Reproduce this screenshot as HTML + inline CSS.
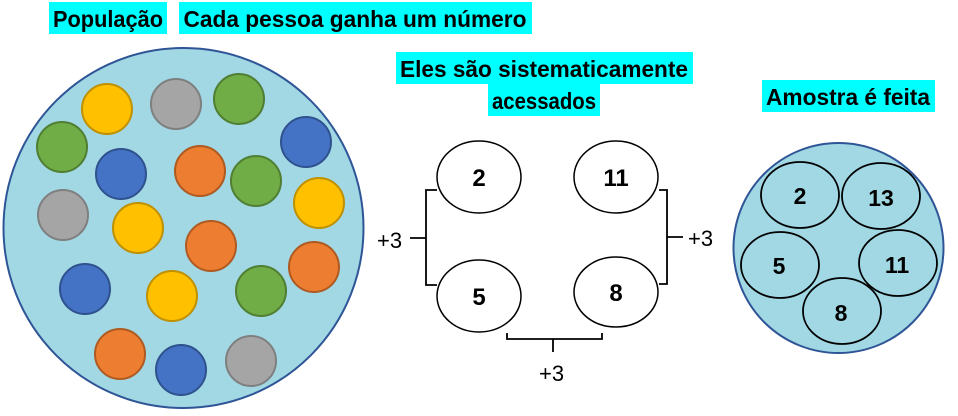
<!DOCTYPE html>
<html><head><meta charset="utf-8"><style>
html,body{margin:0;padding:0;background:#fff;}
svg{display:block;}
text{font-family:"Liberation Sans",sans-serif;}
</style></head><body>
<svg width="958" height="416" viewBox="0 0 958 416" xmlns="http://www.w3.org/2000/svg">
<rect x="49" y="2" width="118" height="32" fill="#00ffff"/>
<text x="108" y="27" font-size="23" font-weight="bold" text-anchor="middle" textLength="110" lengthAdjust="spacingAndGlyphs">População</text>
<rect x="179" y="2" width="353" height="32" fill="#00ffff"/>
<text x="355" y="27" font-size="23" font-weight="bold" text-anchor="middle" textLength="343" lengthAdjust="spacingAndGlyphs">Cada pessoa ganha um número</text>
<rect x="396" y="52" width="297" height="32" fill="#00ffff"/>
<text x="544" y="77" font-size="23" font-weight="bold" text-anchor="middle" textLength="288" lengthAdjust="spacingAndGlyphs">Eles são sistematicamente</text>
<rect x="488" y="84" width="112" height="32" fill="#00ffff"/>
<text x="544" y="109" font-size="23" font-weight="bold" text-anchor="middle" textLength="104" lengthAdjust="spacingAndGlyphs">acessados</text>
<rect x="762" y="80" width="173" height="32" fill="#00ffff"/>
<text x="848" y="105" font-size="23" font-weight="bold" text-anchor="middle" textLength="164" lengthAdjust="spacingAndGlyphs">Amostra é feita</text>

<circle cx="183.5" cy="228" r="180" fill="#a1d8e4" stroke="#2f5597" stroke-width="2"/>
<g stroke-width="2">
<g fill="#ffc000" stroke="#bf9000">
<circle cx="107" cy="109" r="25"/><circle cx="319" cy="203" r="25"/><circle cx="138" cy="228" r="25"/><circle cx="172" cy="296" r="25"/>
</g>
<g fill="#a5a5a5" stroke="#7f7f7f">
<circle cx="176" cy="104" r="25"/><circle cx="63" cy="215" r="25"/><circle cx="251" cy="361" r="25"/>
</g>
<g fill="#70ad47" stroke="#507e32">
<circle cx="239" cy="99" r="25"/><circle cx="62" cy="147" r="25"/><circle cx="256" cy="181" r="25"/><circle cx="261" cy="291" r="25"/>
</g>
<g fill="#4472c4" stroke="#2f528f">
<circle cx="306" cy="142" r="25"/><circle cx="121" cy="174" r="25"/><circle cx="85" cy="289" r="25"/><circle cx="181" cy="370" r="25"/>
</g>
<g fill="#ed7d31" stroke="#ae5a21">
<circle cx="200" cy="171" r="25"/><circle cx="211" cy="246" r="25"/><circle cx="314" cy="267" r="25"/><circle cx="120" cy="354" r="25"/>
</g>
</g>

<g fill="#fff" stroke="#000" stroke-width="1.5">
<ellipse cx="479" cy="177" rx="42" ry="36"/>
<ellipse cx="616" cy="177" rx="42" ry="36"/>
<ellipse cx="479" cy="296" rx="42" ry="36"/>
<ellipse cx="616" cy="292" rx="42" ry="35"/>
</g>
<g font-size="24" font-weight="bold" text-anchor="middle">
<text x="479" y="186">2</text><text x="616" y="186">11</text>
<text x="479" y="305">5</text><text x="616" y="301">8</text>
</g>
<g fill="none" stroke="#000" stroke-width="1.8">
<path d="M437 190 H426 V285 H437 M426 238 H410"/>
<path d="M659 190 H667 V284 H659 M667 237 H683"/>
<path d="M507 333 V339 H602 V333 M553 339 V352"/>
</g>
<g font-size="22">
<text x="377" y="248">+3</text>
<text x="688" y="246">+3</text>
<text x="539" y="381">+3</text>
</g>

<circle cx="838.5" cy="248" r="105" fill="#a1d8e4" stroke="#2f5597" stroke-width="2"/>
<g fill="none" stroke="#000" stroke-width="1.8">
<ellipse cx="800" cy="195" rx="39" ry="33"/>
<ellipse cx="881" cy="196" rx="39" ry="33"/>
<ellipse cx="780" cy="265" rx="39" ry="33"/>
<ellipse cx="898" cy="263" rx="39" ry="33"/>
<ellipse cx="842" cy="311" rx="39" ry="33"/>
</g>
<g font-size="23" font-weight="bold" text-anchor="middle">
<text x="800" y="204">2</text><text x="881" y="206">13</text>
<text x="779" y="274">5</text><text x="897" y="273">11</text>
<text x="841" y="321">8</text>
</g>
</svg>
</body></html>
